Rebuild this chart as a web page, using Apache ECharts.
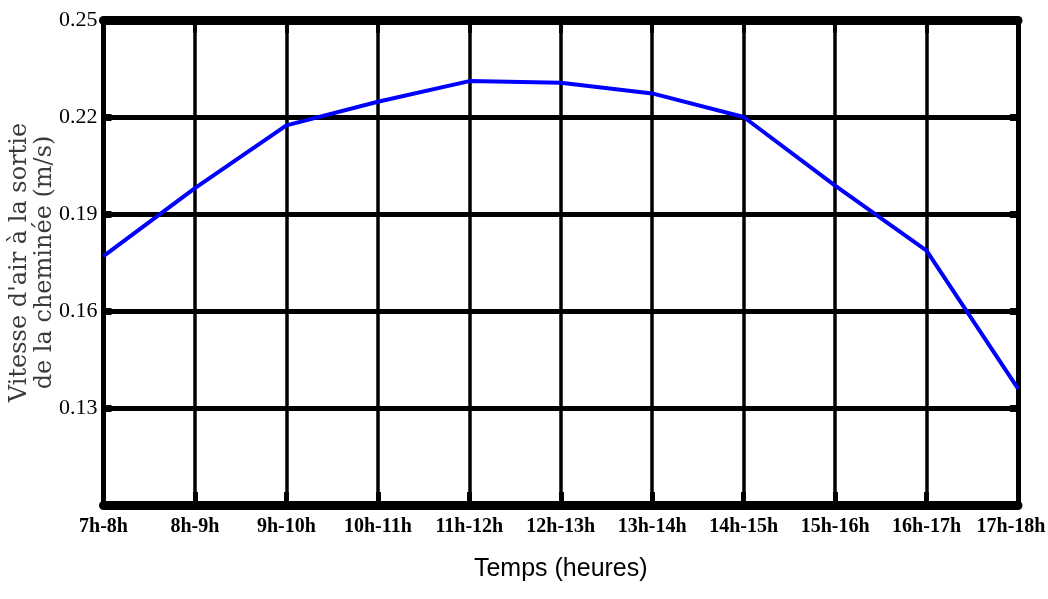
<!DOCTYPE html>
<html>
<head>
<meta charset="utf-8">
<script src="https://cdn.jsdelivr.net/npm/echarts@6/dist/echarts.min.js"></script>
<style>
  html, body { margin: 0; padding: 0; background: #ffffff; }
  #chart { width: 1048px; height: 599px; }
</style>
</head>
<body>
<div id="chart"></div>
<script>
  var hours = ["7h-8h", "8h-9h", "9h-10h", "10h-11h", "11h-12h", "12h-13h",
    "13h-14h", "14h-15h", "15h-16h", "16h-17h", "17h-18h"];
  var airSpeed = [0.177, 0.198, 0.2174, 0.2247, 0.2311, 0.2306,
    0.2273, 0.220, 0.1988, 0.1787, 0.136];
  var yTickLabels = ["0.13", "0.16", "0.19", "0.22", "0.25"];

  var chart = echarts.init(document.getElementById("chart"), null, { renderer: "canvas" });

  function yLabel(value) {
    var txt = value.toFixed(2);
    return yTickLabels.indexOf(txt) >= 0 ? txt : "";
  }

  // last label sits a bit left of its tick, as in the source figure
  function xLabel(value, index) {
    if (index === hours.length - 1) {
      return "{last|" + value + "}";
    }
    return value;
  }

  var xLabelFont = {
    fontFamily: "'Liberation Serif', 'Times New Roman', serif",
    fontWeight: "bold",
    fontSize: 20,
    color: "#000000"
  };

  var option = {
    animation: false,
    backgroundColor: "#ffffff",
    grid: {
      left: 103.5, right: 30, top: 20, bottom: 94,
      containLabel: false,
      outerBoundsMode: "none"
    },
    xAxis: [
      {
        type: "category",
        data: hours,
        boundaryGap: false,
        position: "bottom",
        name: "Temps (heures)",
        nameLocation: "middle",
        nameGap: 52,
        nameMoveOverlap: false,
        nameTextStyle: {
          fontFamily: "'Liberation Sans', Arial, sans-serif",
          fontSize: 25,
          color: "#000000"
        },
        axisLine: { lineStyle: { color: "#000000", width: 9 } },
        axisTick: { show: true, inside: true, length: 13, lineStyle: { color: "#000000", width: 5 } },
        axisLabel: Object.assign({
          interval: 0,
          margin: 12,
          formatter: xLabel,
          rich: {
            last: Object.assign({ padding: [0, 14, 0, 0] }, xLabelFont)
          }
        }, xLabelFont),
        splitLine: { show: true, lineStyle: { color: "#000000", width: 3.5 } }
      },
      {
        type: "category",
        data: hours,
        boundaryGap: false,
        position: "top",
        axisLine: { lineStyle: { color: "#000000", width: 9 } },
        axisTick: { show: true, inside: true, length: 13, lineStyle: { color: "#000000", width: 4 } },
        axisLabel: { show: false },
        splitLine: { show: false }
      }
    ],
    yAxis: [
      {
        type: "value",
        min: 0.10,
        max: 0.25,
        interval: 0.03,
        position: "left",
        name: "Vitesse d'air à la sortie\nde la cheminée (m/s)",
        nameLocation: "middle",
        nameGap: 46,
        nameMoveOverlap: false,
        nameTextStyle: {
          fontFamily: "'DejaVu Serif', serif",
          fontSize: 24,
          lineHeight: 25,
          color: "#3a3a3a"
        },
        axisLine: { show: true, lineStyle: { color: "#000000", width: 5 } },
        axisTick: { show: true, inside: true, length: 8, lineStyle: { color: "#000000", width: 7 } },
        axisLabel: {
          margin: 6,
          fontFamily: "'Liberation Serif', 'Times New Roman', serif",
          fontSize: 22,
          color: "#000000",
          formatter: yLabel
        },
        splitLine: { show: true, lineStyle: { color: "#000000", width: 5 } }
      },
      {
        type: "value",
        min: 0.10,
        max: 0.25,
        interval: 0.03,
        position: "right",
        axisLine: { show: true, lineStyle: { color: "#000000", width: 5 } },
        axisTick: { show: true, inside: true, length: 8, lineStyle: { color: "#000000", width: 7 } },
        axisLabel: { show: false },
        splitLine: { show: false }
      }
    ],
    series: [
      {
        type: "line",
        data: airSpeed,
        xAxisIndex: 0,
        yAxisIndex: 0,
        showSymbol: false,
        smooth: false,
        z: 10,
        lineStyle: { color: "#0000ff", width: 4 }
      }
    ]
  };

  chart.setOption(option);
</script>
</body>
</html>
